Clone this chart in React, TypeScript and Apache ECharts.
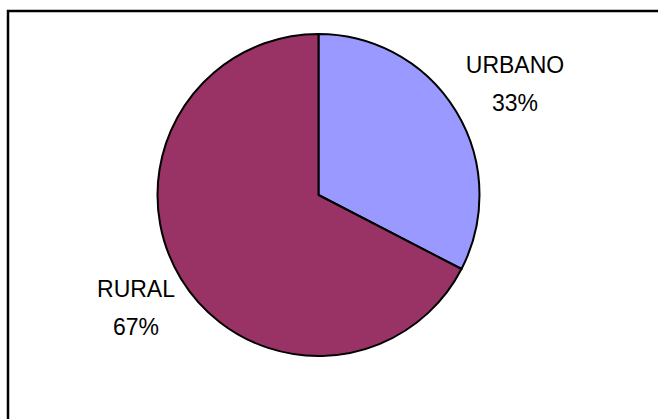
import React, { useEffect, useRef } from "react";
import * as echarts from "echarts";

const categories = ["URBANO", "RURAL"];
const values = [32.6, 67.4];
const colors = ["#9999FF", "#993366"];

export default function App() {
  const ref = useRef<HTMLDivElement>(null);
  useEffect(() => {
    if (!ref.current) return;
    const chart = echarts.init(ref.current, null, { renderer: "svg" });
    const labelPos = [
      { x: 515, y: 84 },
      { x: 136, y: 308 },
    ];
    chart.setOption({
      animation: false,
      backgroundColor: "#ffffff",
      graphic: [
        {
          type: "rect",
          shape: { x: 8, y: 11, width: 1000, height: 1000 },
          style: { fill: "none", stroke: "#000000", lineWidth: 2.5 },
          silent: true,
        },
      ],
      series: [
        {
          type: "pie",
          center: [318.5, 195],
          radius: [0, 161],
          startAngle: 90,
          clockwise: true,
          percentPrecision: 0,
          data: categories.map((name, i) => ({
            name,
            value: values[i],
            itemStyle: { color: colors[i] },
          })),
          itemStyle: { borderColor: "#000000", borderWidth: 2 },
          label: {
            show: true,
            position: "outside",
            formatter: "{b}\n{d}%",
            fontFamily: "Liberation Sans, Arial, sans-serif",
            fontSize: 23,
            lineHeight: 38,
            color: "#000000",
            align: "center",
          },
          labelLine: { show: false },
          labelLayout: (params: any) => ({
            x: labelPos[params.dataIndex].x,
            y: labelPos[params.dataIndex].y,
            align: "center",
            verticalAlign: "middle",
          }),
          emphasis: { disabled: true },
        },
      ],
    });
    return () => chart.dispose();
  }, []);
  return (
    <div
      ref={ref}
      style={{ position: "fixed", left: 0, top: 0, width: 658, height: 419 }}
    />
  );
}
